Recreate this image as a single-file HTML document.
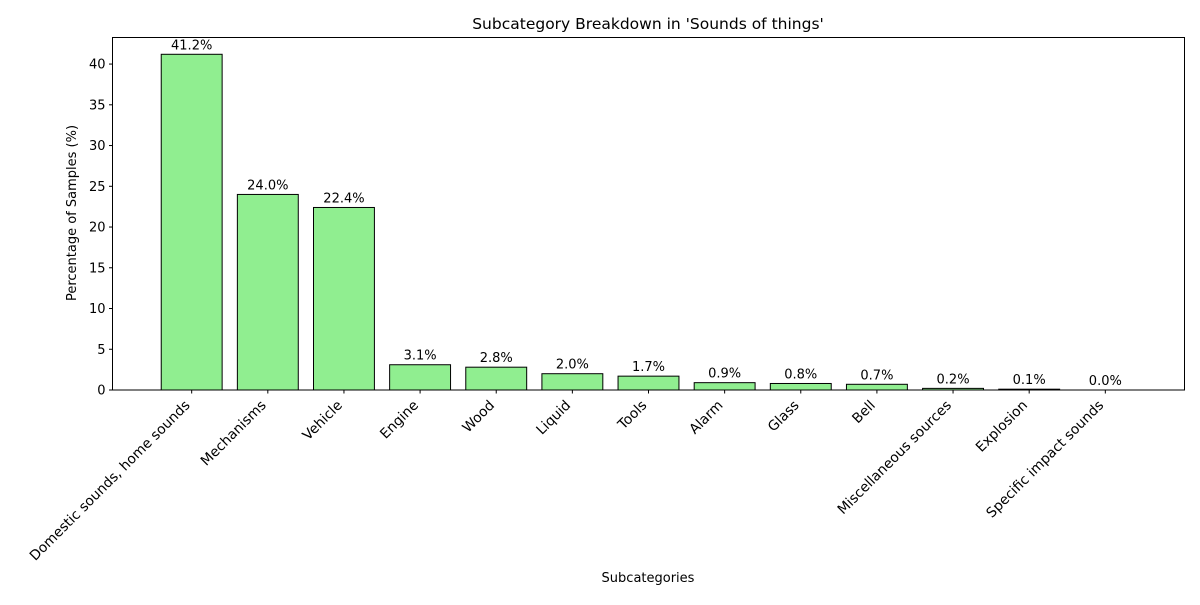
<!DOCTYPE html>
<html><head><meta charset="utf-8"><style>
body{margin:0;background:#fff;font-family:"Liberation Sans","DejaVu Sans",sans-serif;}
svg text{font-family:"DejaVu Sans","Liberation Sans",sans-serif;}
</style></head><body>
<svg id="chart" width="1200" height="600" xmlns="http://www.w3.org/2000/svg">
<text x="648" y="29" text-anchor="middle" font-size="15.5">Subcategory Breakdown in 'Sounds of things'</text>
<text x="648" y="582" text-anchor="middle" font-size="13">Subcategories</text>
<text transform="translate(76,213) rotate(-90)" text-anchor="middle" font-size="13">Percentage of Samples (%)</text>
<g id="ticks"></g><g id="bars"></g>
<rect x="112.5" y="37.5" width="1072" height="352.5" fill="none" stroke="#000" stroke-width="1"/>
</svg>
<script>
const categories=["Domestic sounds, home sounds","Mechanisms","Vehicle","Engine","Wood","Liquid","Tools","Alarm","Glass","Bell","Miscellaneous sources","Explosion","Specific impact sounds"];
const values=[41.2,24.0,22.4,3.1,2.8,2.0,1.7,0.9,0.8,0.7,0.2,0.1,0.0];
const yTicks=[0,5,10,15,20,25,30,35,40];
const NS="http://www.w3.org/2000/svg";
const L=112.5,R=1184.5,T=37.5,B=390;
const yMax=Math.max(...values)*1.05;
const xMin=-1.04,xMax=categories.length-1+1.04;
const x=i=>L+(i-xMin)/(xMax-xMin)*(R-L);
const y=v=>B-v/yMax*(B-T);
const bw=0.8*(R-L)/(xMax-xMin);
const tg=document.getElementById('ticks'),bg=document.getElementById('bars');
function mk(tag,attrs,parent){const e=document.createElementNS(NS,tag);for(const k in attrs)e.setAttribute(k,attrs[k]);parent.appendChild(e);return e;}
yTicks.forEach(t=>{
 const l=mk('line',{x1:L-3.5,x2:L,y1:y(t),y2:y(t),stroke:'#000'},tg);
 
 
 const tx=mk('text',{x:L-7,y:y(t)+4.5,'text-anchor':'end','font-size':'13'},tg);
 
 
 tx.textContent=t;
});
categories.forEach((c,i)=>{
 const cx=x(i),v=values[i];
 const r=mk('rect',{x:cx-bw/2,y:y(v),width:bw,height:B-y(v),fill:'#90ee90',stroke:'#000','stroke-width':1},bg);
 
 
 const vl=mk('text',{x:cx,y:y(v)-5,'text-anchor':'middle','font-size':'13'},bg);
 
 
 vl.textContent=v.toFixed(1)+'%';
 const tk=mk('line',{x1:cx,x2:cx,y1:B,y2:B+3.5,stroke:'#000'},tg);
 
 
 const lb=mk('text',{transform:`translate(${cx-1},${B+16}) rotate(-45)`,'text-anchor':'end','font-size':'13.8'},tg);
 
 
 lb.textContent=c;
});
</script>
</body></html>
